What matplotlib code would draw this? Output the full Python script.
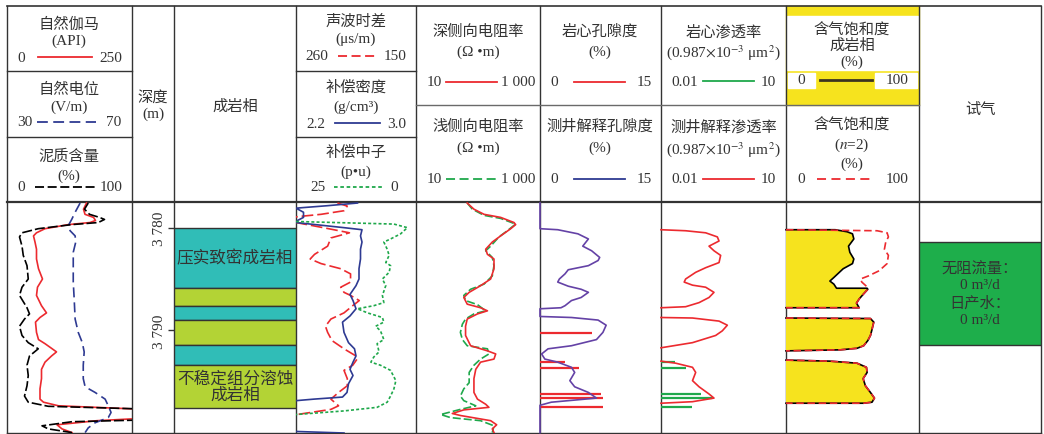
import numpy as np
import matplotlib.pyplot as plt
from matplotlib.patches import Rectangle

plt.rcParams['font.family'] = ['Liberation Serif', 'Noto Sans CJK SC']
plt.rcParams['mathtext.fontset'] = 'stix'

# depth window of the log tracks (m)
top_depth, base_depth = 3777.5, 3800.0

# ---- track 1: GR (API), SP, shale volume (%) ----
gr_depth = [3777.6, 3778.2, 3778.7, 3779.0, 3779.3, 3779.5, 3779.7, 3780.1, 3780.5, 3780.8,
            3781.4, 3782.1, 3783.05, 3784.0, 3785.0, 3785.8, 3786.6, 3787.6, 3788.3, 3788.75,
            3789.2, 3790.2, 3790.9, 3791.3, 3791.75, 3792.1, 3792.5, 3793.1, 3793.8, 3794.7,
            3795.7, 3796.7, 3797.0, 3797.35, 3797.75, 3798.5, 3798.8, 3799.2, 3799.6, 3799.96]
gr = [159, 153, 156, 173, 177, 166, 123, 76, 59, 53,
      56, 59, 59, 63, 71, 61, 59, 69, 79, 66,
      57, 59, 63, 76, 89, 99, 89, 76, 69, 69,
      66, 66, 73, 103, 300, 300, 180, 100, 110, 130]

vsh_depth = [3777.6, 3778.2, 3778.7, 3779.0, 3779.2, 3779.5, 3779.7, 3780.1, 3780.5, 3780.9,
             3781.8, 3782.7, 3783.7, 3785.0, 3785.8, 3786.6, 3787.8, 3788.4, 3788.9, 3789.6,
             3790.5, 3791.2, 3791.8, 3792.5, 3793.4, 3794.4, 3795.4, 3796.4, 3797.0, 3797.4,
             3797.7, 3798.7, 3798.9, 3799.3, 3799.6, 3799.96]
vsh = [65, 62, 66, 74, 78, 73, 52, 25, 12, 10,
       12, 13, 16, 17, 12, 10, 16, 18, 14, 10,
       12, 17, 25, 18, 16, 17, 16, 14, 17, 33,
       120, 120, 52, 28, 33, 52]

sp_depth = [3777.6, 3778.5, 3779.2, 3779.8, 3780.3, 3780.8, 3781.4, 3782.4, 3783.7, 3785.3,
            3786.95, 3788.9, 3790.2, 3791.2, 3792.1, 3793.4, 3794.7, 3795.5, 3796.05, 3796.7,
            3797.35, 3798.0, 3798.5, 3799.0, 3799.5, 3799.96]
sp = [53.4, 51.8, 50.7, 49.6, 50.2, 51.8, 52.0, 51.2, 51.2, 51.2,
      51.5, 51.8, 52.8, 54.1, 54.7, 54.4, 54.4, 55.0, 58.2, 61.4,
      62.4, 63.3, 62.4, 58.2, 56.0, 55.0]

# ---- track 4: AC (us/m), DEN (g/cm3), CNL (p.u.) ----
ac_depth = [3777.6, 3777.9, 3778.35, 3778.7, 3778.9, 3779.2, 3779.4, 3779.5, 3780.0, 3780.5,
            3781.0, 3781.8, 3782.6, 3783.05, 3783.5, 3784.0, 3784.5, 3785.3, 3785.8, 3786.3,
            3786.6, 3787.1, 3787.6, 3788.3, 3788.9, 3789.6, 3790.2, 3791.0, 3791.8, 3792.5,
            3792.8, 3793.4, 3793.9, 3794.7, 3795.4, 3796.05, 3796.7, 3797.35, 3797.7, 3798.2,
            3798.3, 3799.96]
ac = [222, 213, 216, 237, 256, 280, 280, 260, 235, 211,
      228, 231, 243, 247, 237, 219, 210, 210, 219, 216,
      210, 202, 208, 216, 228, 233, 231, 227, 216, 205,
      204, 208, 216, 213, 213, 221, 228, 221, 228, 259,
      290, 290]

den_depth = [3777.6, 3777.86, 3778.1, 3778.5, 3779.0, 3779.3, 3779.5, 3780.0, 3780.2, 3780.8,
             3781.4, 3782.1, 3783.05, 3784.0, 3785.0, 3785.65, 3786.5, 3787.1, 3787.9, 3788.6,
             3789.2, 3790.2, 3791.2, 3791.8, 3792.5, 3793.1, 3793.8, 3794.4, 3795.2, 3796.05,
             3796.5, 3796.7, 3796.85, 3797.1, 3799.6, 3799.85, 3800.0]
den = [2.61, 2.41, 2.20, 2.25, 2.25, 2.21, 2.20, 2.52, 2.64, 2.63,
       2.64, 2.63, 2.63, 2.62, 2.62, 2.60, 2.56, 2.58, 2.60, 2.56,
       2.51, 2.52, 2.55, 2.59, 2.60, 2.58, 2.56, 2.58, 2.55, 2.54,
       2.51, 2.32, 2.20, 2.08, 2.08, 2.20, 2.52]

cnl_depth = [3777.6, 3779.3, 3779.4, 3779.65, 3780.0, 3780.6, 3781.1, 3781.4, 3782.1, 3782.7,
             3783.4, 3783.7, 3784.35, 3785.0, 3785.65, 3786.6, 3787.3, 3787.6, 3787.9, 3788.3,
             3788.75, 3789.2, 3789.6, 3790.05, 3790.9, 3791.3, 3792.1, 3792.6, 3793.1, 3793.4,
             3793.9, 3794.9, 3795.7, 3796.4, 3797.0, 3797.5, 3797.85, 3798.2, 3798.3, 3799.96]
cnl = [30, 30, 25.0, 4.6, 1.8, 3.2, 5.3, 6.7, 6.0, 5.6,
       6.3, 5.3, 5.6, 7.0, 6.3, 7.0, 6.7, 8.8, 12.2, 10.1,
       7.0, 6.7, 8.4, 7.4, 6.7, 8.1, 7.7, 8.8, 9.4, 7.4,
       5.3, 4.2, 4.6, 5.3, 6.0, 8.1, 15.0, 25.0, 30, 30]

# ---- track 5: deep / shallow laterolog (ohm.m) ----
rd_depth = [3777.6, 3778.2, 3778.7, 3779.0, 3779.5, 3779.7, 3780.1, 3780.8, 3781.4, 3782.1,
            3782.6, 3783.05, 3784.0, 3785.0, 3785.65, 3786.3, 3786.8, 3787.45, 3787.8, 3788.1,
            3788.4, 3788.9, 3789.6, 3790.5, 3791.5, 3792.0, 3792.3, 3792.8, 3793.1, 3793.8,
            3794.7, 3796.05, 3796.7, 3797.2, 3797.5, 3797.75, 3798.1, 3798.3, 3798.8, 3799.2,
            3799.6, 3799.96]
rd = [67, 86, 125, 232, 381, 405, 337, 232, 170, 133,
      142, 181, 181, 160, 110, 72, 59, 67, 110, 142,
      98, 67, 63, 63, 76, 142, 193, 181, 110, 92,
      86, 86, 98, 133, 150, 59, 38.5, 52.5, 160, 200,
      170, 181]

rs_depth = [3777.6, 3778.2, 3778.8, 3779.1, 3779.65, 3780.3, 3780.9, 3781.8, 3782.25, 3782.9,
            3783.7, 3784.7, 3785.5, 3786.0, 3786.6, 3787.1, 3787.5, 3788.1, 3788.4, 3788.9,
            3789.4, 3790.2, 3790.9, 3791.5, 3791.8, 3792.3, 3792.8, 3793.4, 3794.1, 3795.1,
            3795.7, 3796.4, 3796.85, 3797.35, 3797.7, 3798.2, 3798.5, 3798.8, 3799.3, 3799.96]
rs = [67, 81, 125, 232, 405, 297, 218, 160, 133, 170,
      181, 170, 125, 76, 59, 63, 98, 133, 86, 63,
      56, 52, 56, 67, 142, 150, 110, 86, 72, 72,
      59, 52, 59, 92, 52, 25, 36, 110, 181, 170]

# ---- track 6: porosity (%) ----
por_depth = [3777.6, 3780.1, 3780.2, 3780.6, 3781.1, 3781.8, 3782.25, 3782.9, 3783.2, 3783.7,
             3784.1, 3784.5, 3785.0, 3785.3, 3785.7, 3786.0, 3786.3, 3786.8, 3787.1, 3787.6,
             3787.8, 3787.9, 3788.65, 3788.75, 3789.0, 3789.5, 3790.2, 3790.9, 3791.5, 3791.8,
             3792.3, 3792.8, 3793.1, 3793.6, 3794.1, 3794.9, 3795.5, 3796.05, 3796.6, 3797.0,
             3797.3, 3799.96]
por = [0, 0, 2.2, 4.7, 6.0, 5.3, 6.4, 7.4, 7.2, 6.0,
       3.5, 3.1, 2.4, 2.2, 3.5, 5.1, 6.0, 5.1, 3.9, 3.1,
       2.6, 0, 0, 3.9, 7.2, 8.2, 7.8, 7.0, 3.9, 1.0,
       0.2, 0.6, 2.2, 3.9, 4.3, 3.7, 4.3, 6.0, 7.0, 1.4,
       0, 0]
core_por_depth = [3790.3, 3793.05, 3793.7, 3796.2, 3796.6, 3797.45]
core_por = [6.4, 3.1, 4.8, 7.6, 7.8, 7.8]

# ---- track 7: permeability (0.987e-3 um2) ----
perm_depth = [3780.2, 3780.3, 3780.5, 3780.9, 3781.3, 3781.8, 3782.25, 3782.7, 3783.4, 3783.9,
              3784.35, 3785.0, 3785.3, 3785.6, 3785.8, 3786.3, 3786.8, 3787.3, 3787.7, 3787.8,
              np.nan, 3788.75, 3788.8, 3789.1, 3789.5, 3790.05, 3790.5, 3791.2, 3791.7, np.nan,
              3793.0, 3793.2, 3793.6, 3794.1, 3794.9, 3795.5, 3796.2, 3796.6, 3796.95, 3797.1]
perm = [0.01, 0.039, 0.118, 0.225, 0.247, 0.142, 0.187, 0.270, 0.247, 0.118,
        0.068, 0.039, 0.036, 0.057, 0.118, 0.187, 0.142, 0.082, 0.039, 0.01,
        np.nan, 0.01, 0.057, 0.247, 0.391, 0.296, 0.205, 0.057, 0.01, np.nan,
        0.01, 0.0225, 0.057, 0.068, 0.057, 0.082, 0.142, 0.187, 0.057, 0.01]
core_perm_depth = [3793.05, 3793.7, 3796.2, 3796.6, 3797.45]
core_perm = [0.022, 0.039, 0.090, 0.171, 0.057]

# ---- track 8: gas saturation (%) ----
sgf1_depth = [3780.2, 3780.2, 3780.4, 3780.6, 3781.1, 3781.8, 3782.4, 3783.05, 3783.5, 3784.0,
              3784.85, 3785.2, 3785.5, 3785.9, 3785.9, 3786.0, 3786.5, 3786.95, 3787.35, 3787.8,
              3787.8]
sgf1 = [0, 37, 46, 50, 51, 47, 48, 51, 50, 43,
        36, 33, 36, 38, 61, 61.5, 58, 55, 53, 55,
        0]
sgn1_depth = [3780.2, 3780.3, 3780.5, 3780.9, 3781.4, 3782.1, 3782.7, 3783.5, 3784.2, 3784.7,
              3785.0, 3785.3, 3785.65, 3786.0, 3786.5, 3786.95, 3787.35, 3787.8, 3787.8]
sgn1 = [0, 68.5, 76, 77, 75, 74, 77, 76, 70, 62,
        56, 57, 60, 61.5, 58, 55, 53, 55, 0]
sg2_depth = [3788.8, 3788.85, 3789.2, 3789.9, 3790.5, 3791.0, 3791.5, 3791.75, 3791.9, 3792.0]
sg2 = [0, 63.5, 66, 64.7, 63.5, 61.5, 58.4, 53.4, 40.8, 0]
sg3_depth = [3792.9, 3793.0, 3793.2, 3793.6, 3794.1, 3794.7, 3795.4, 3796.05, 3796.6, 3797.0,
             3797.1, 3797.1]
sg3 = [0, 33, 53.4, 60.5, 61, 58, 59.7, 63.5, 66.5, 64.7, 58.4, 0]

# ---- diagenetic facies and gas test ----
facies_top = [3780.0, 3785.85, 3787.6, 3789.0, 3791.4, 3793.4]
facies_base = [3785.85, 3787.6, 3789.0, 3791.4, 3793.4, 3797.55]
facies_type = ['compact', 'dissolve', 'compact', 'dissolve', 'compact', 'dissolve']
gas_test_top, gas_test_base = 3781.35, 3791.4
gas_test_text = '无阻流量：\n0 m³/d\n日产水：\n0 m³/d'

# ---------------------------------------------------------------
W, H = 1044, 435
fig = plt.figure(figsize=(W / 100, H / 100), dpi=100)
bg = fig.add_axes([0, 0, 1, 1])
bg.set_xlim(0, W)
bg.set_ylim(H, 0)
bg.axis('off')

ink = '#333333'
red, blue, green, purple = '#EC2A2F', '#2E3A92', '#1FA84B', '#6442A6'
yellow = '#F6E31E'
facies_color = {'compact': '#30BDB7', 'dissolve': '#B3D335'}

cols = [7, 132, 174, 296, 416, 540, 661, 786, 919, 1041]
y_top, y_head, y_bot = 7, 203, 434

# yellow header cell of the facies gas saturation
bg.add_patch(Rectangle((786, y_top), 133, 99, color=yellow, zorder=0))
bg.add_patch(Rectangle((787, 17), 131, 54, color='white', zorder=0.5))
bg.add_patch(Rectangle((788, 74), 27, 15, color='white', zorder=0.5))
bg.add_patch(Rectangle((875, 74), 42, 15, color='white', zorder=0.5))

# table grid
for x in cols:
    bg.plot([x, x], [y_top, y_bot], color=ink, lw=1.0, zorder=3)
for y, lw in [(y_top, 1.2), (y_head, 1.6), (y_bot, 1.0)]:
    bg.plot([cols[0], cols[-1]], [y, y], color=ink, lw=lw, zorder=3)
for x0, x1 in [(7, 132), (296, 416)]:
    for y in (72, 138):
        bg.plot([x0, x1], [y, y], color=ink, lw=1.0, zorder=3)
bg.plot([416, 919], [106, 106], color='#6a6a6a', lw=1.0, zorder=3)


def txt(x, y, s, size=11, **kw):
    bg.text(x, y, s, ha='center', va='center', fontsize=size, color=ink, zorder=4, **kw)


def scale(y, lo, xl, hi, xr, x0, x1, **style):
    txt(xl, y, lo)
    txt(xr, y, hi)
    style.setdefault('lw', 1.3)
    bg.plot([x0, x1], [y, y], zorder=4, **style)


perm_unit = r'(0.987$\times$10$^{-3}$ μm$^{2}$)'

txt(69, 25, '自然伽马')
txt(69, 41, '(API)')
scale(58, '0', 21, '250', 111, 38, 92, color=red)
txt(69, 90, '自然电位')
txt(69, 107, '(V/m)')
scale(123, '30', 25, '70', 114, 37, 96, color=blue, dashes=(6, 3))
txt(69, 157, '泥质含量')
txt(69, 176, '(%)')
scale(188, '0', 21, '100', 111, 35, 95, color='k', dashes=(5, 2))

txt(153, 98, '深度')
txt(153, 114, '(m)')
txt(235, 107, '成岩相')

txt(356, 22, '声波时差')
txt(356, 39, '(μs/m)')
scale(57, '260', 317, '150', 395, 338, 375, color=red, dashes=(5, 2.5))
txt(356, 88, '补偿密度')
txt(356, 107, '(g/cm³)')
scale(124, '2.2', 316, '3.0', 397, 335, 380, color=blue)
txt(356, 153, '补偿中子')
txt(356, 172, '(p•u)')
scale(188, '25', 318, '0', 394, 334, 382, color=green, dashes=(2, 1.5))

txt(478, 32, '深侧向电阻率')
txt(478, 52, '(Ω •m)')
scale(83, '10', 434, '1 000', 518, 446, 497, color=red)
txt(478, 127, '浅侧向电阻率')
txt(478, 148, '(Ω •m)')
scale(180, '10', 434, '1 000', 518, 446, 497, color=green, dashes=(5, 2.5))

txt(600, 32, '岩心孔隙度')
txt(600, 52, '(%)')
scale(83, '0', 554, '15', 644, 574, 625, color=red)
txt(600, 127, '测井解释孔隙度')
txt(600, 148, '(%)')
scale(180, '0', 554, '15', 644, 574, 625, color=blue)

txt(724, 32, '岩心渗透率')
txt(723, 53, perm_unit)
scale(82, '0.01', 685, '10', 768, 703, 754, color=green)
txt(724, 127, '测井解释渗透率')
txt(723, 150, perm_unit)
scale(180, '0.01', 685, '10', 768, 703, 754, color=red)

txt(852, 31, '含气饱和度')
txt(852, 46, '成岩相')
txt(852, 62, '(%)')
scale(81, '0', 801, '100', 897, 820, 872, color='#3d3420', lw=2)
txt(852, 126, '含气饱和度')
txt(852, 145, r'($n$=2)')
txt(852, 164, '(%)')
scale(180, '0', 801, '100', 897, 817, 874, color=red, dashes=(5, 3))

txt(980, 110, '试气')


# ---------------------------------------------------------------
def track(x0, x1, lo, hi, log=False):
    ax = fig.add_axes([x0 / W, 1 - y_bot / H, (x1 - x0) / W, (y_bot - y_head) / H])
    if log:
        ax.set_xscale('log')
    ax.set_xlim(lo, hi)
    ax.set_ylim(base_depth, top_depth)
    ax.patch.set_visible(False)
    for s in ax.spines.values():
        s.set_visible(False)
    ax.tick_params(which='both', left=False, bottom=False,
                   labelleft=False, labelbottom=False)
    return ax


lw = 1.2

# track 1
ax = track(7, 132, 0, 250)
ax.plot(gr, gr_depth, color=red, lw=lw)
ax = track(7, 132, 30, 70)
ax.plot(sp, sp_depth, color=blue, lw=lw, dashes=(6, 3))
ax = track(7, 132, 0, 100)
ax.plot(vsh, vsh_depth, color='k', lw=lw, dashes=(6, 1.8))

# depth scale + diagenetic facies
ax = track(174, 296, 0, 1)
for t, b, kind in zip(facies_top, facies_base, facies_type):
    ax.axhspan(t, b, facecolor=facies_color[kind], edgecolor=ink, lw=1.0)
ax.text(0.5, (facies_top[0] + facies_base[0]) / 2, '压实致密成岩相',
        ha='center', va='center', fontsize=12, color=ink)
ax.text(0.5, (facies_top[-1] + facies_base[-1]) / 2, '不稳定组分溶蚀\n成岩相',
        ha='center', va='center', multialignment='center',
        fontsize=12, color=ink, linespacing=1.0)
ax.set_yticks([3780, 3790])
ax.set_yticklabels(['3 780', '3 790'], rotation=90, va='center', fontsize=11, color=ink)
ax.tick_params(axis='y', left=True, labelleft=True, length=4, width=1.0, color=ink, pad=2)

# track 4
ax = track(296, 416, 260, 150)
ax.plot(ac, ac_depth, color=red, lw=lw, dashes=(7, 2.4))
ax = track(296, 416, 2.2, 3.0)
ax.plot(den, den_depth, color=blue, lw=lw)
ax = track(296, 416, 25, 0)
ax.plot(cnl, cnl_depth, color=green, lw=lw, dashes=(1.8, 1.3))

# track 5
ax = track(416, 540, 10, 1000, log=True)
ax.plot(rs, rs_depth, color=green, lw=lw, dashes=(4.8, 1.8))
ax.plot(rd, rd_depth, color=red, lw=lw)

# track 6
ax = track(540, 661, 0, 15)
ax.hlines(core_por_depth, 0, core_por, color=red, lw=1.6)
ax.plot(por, por_depth, color=purple, lw=lw, clip_on=False)

# track 7
ax = track(661, 786, 0.01, 10, log=True)
ax.hlines(core_perm_depth, 0.01, core_perm, color=green, lw=1.6)
ax.plot(perm, perm_depth, color=red, lw=lw, clip_on=False)

# track 8
ax = track(786, 919, 0, 100)
for sv, sd in [(sgf1, sgf1_depth), (sg2, sg2_depth), (sg3, sg3_depth)]:
    ax.fill(sv, sd, color=yellow, lw=0)
    ax.plot(sv, sd, color='k', lw=lw, clip_on=False)
for sv, sd in [(sgn1, sgn1_depth), (sg2, sg2_depth), (sg3, sg3_depth)]:
    ax.plot(sv, sd, color=red, lw=lw, dashes=(4.5, 2.2), clip_on=False)

# gas test
ax = track(919, 1041, 0, 1)
ax.axhspan(gas_test_top, gas_test_base, facecolor='#1EAE4B', edgecolor=ink, lw=1.0)
ax.text(0.5, (gas_test_top + gas_test_base) / 2, gas_test_text, ha='center', va='center',
        multialignment='center', fontsize=11, color=ink, linespacing=1.35)

fig.savefig('out.png', dpi=100)
